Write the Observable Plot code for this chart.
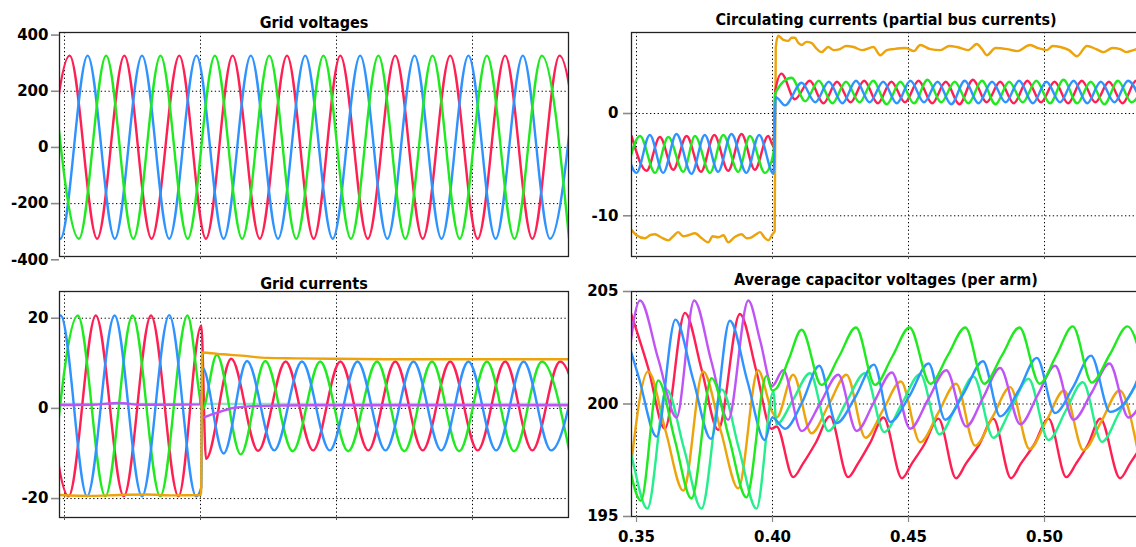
<!DOCTYPE html>
<html><head><meta charset="utf-8">
<script src="https://cdn.jsdelivr.net/npm/d3@7"></script>
<script src="https://cdn.jsdelivr.net/npm/@observablehq/plot@0.6"></script>
<style>
body{margin:0;background:#fff;}
#chart{position:relative;width:1136px;height:547px;overflow:hidden;background:#fff;}
#chart svg{position:absolute;overflow:visible;}
</style></head><body><div id="chart"></div>
<script>
// ---- shared axis data ----
const xDomain = [0.34816, 0.53529];
const xTicks = [0.35, 0.40, 0.45, 0.50];
const xTickLabels = ["0.35", "0.40", "0.45", "0.50"];
const titles = ["Grid voltages", "Grid currents", "Circulating currents (partial bus currents)", "Average capacitor voltages (per arm)"];

// ---- Grid voltages (extrema, [time s, value V]) ----
const gvTicks = [-400, -200, 0, 200, 400];
const gvGrid = [-200, 0, 200];
const gvRed = [[0.3421,-325],[0.3519,327],[0.3620,-325],[0.3720,327],[0.3820,-325],[0.3922,327],[0.4020,-325],[0.4118,327],[0.4218,-325],[0.4318,327],[0.4416,-325],[0.4514,327],[0.4615,-325],[0.4716,327],[0.4817,-325],[0.4918,327],[0.5019,-325],[0.5120,327],[0.5220,-325],[0.5320,327],[0.5420,-325]];
const gvBlue = [[0.3385,327],[0.3485,-325],[0.3585,327],[0.3685,-325],[0.3785,327],[0.3885,-325],[0.3985,327],[0.4085,-325],[0.4185,327],[0.4285,-325],[0.4385,327],[0.4486,-325],[0.4587,327],[0.4687,-325],[0.4787,327],[0.4886,-325],[0.4985,327],[0.5085,-325],[0.5185,327],[0.5285,-325],[0.5385,327]];
const gvGreen = [[0.3451,327],[0.3553,-325],[0.3653,327],[0.3753,-325],[0.3853,327],[0.3953,-325],[0.4053,327],[0.4153,-325],[0.4253,327],[0.4352,-325],[0.4452,327],[0.4553,-325],[0.4654,327],[0.4753,-325],[0.4853,327],[0.4953,-325],[0.5053,327],[0.5154,-325],[0.5255,327],[0.5355,-325]];

// ---- Grid currents ----
const gcTicks = [-20, 0, 20];
const gcGrid = [-20, 0, 20];
const gcTeal = [[0.3482,1.0],[0.5353,1.0]];
const gcRed = [[0.3415,20.6],[0.3515,-19.5],[0.3615,20.6],[0.3718,-19.5],[0.3818,20.6],[0.3919,-19.5],[0.4003,18.4],[0.4020,-11.2],[0.4113,11.0],[0.4212,-9.4],[0.4313,10.4],[0.4414,-9.3],[0.4514,10.4],[0.4617,-9.3],[0.4716,10.4],[0.4817,-9.3],[0.4918,10.4],[0.5019,-9.3],[0.5120,10.4],[0.5220,-9.3],[0.5322,10.4],[0.5422,-9.3]];
const gcGreen = [[0.3449,-19.5],[0.3549,20.6],[0.3650,-19.5],[0.3750,20.6],[0.3852,-19.5],[0.3952,20.6],[0.4003,0.5],[0.4006,-0.3],[0.4060,11.9],[0.4148,-10.2],[0.4238,10.5],[0.4339,-9.5],[0.4440,10.4],[0.4543,-9.5],[0.4649,10.4],[0.4749,-9.5],[0.4851,10.4],[0.4951,-9.5],[0.5053,10.4],[0.5153,-9.5],[0.5255,10.4],[0.5356,-9.5]];
const gcBlue = [[0.3386,-19.5],[0.3486,20.6],[0.3583,-19.5],[0.3684,20.6],[0.3785,-19.5],[0.3885,20.7],[0.3984,-19.5],[0.4003,-17.5],[0.4006,9.2],[0.4085,-10.0],[0.4171,10.5],[0.4271,-9.3],[0.4373,10.4],[0.4475,-9.3],[0.4577,10.4],[0.4680,-9.3],[0.4783,10.4],[0.4885,-9.3],[0.4985,10.4],[0.5087,-9.3],[0.5188,10.4],[0.5289,-9.3],[0.5389,10.4]];
const gcPurple = [[0.3482,0.75],[0.3600,0.8],[0.3700,1.2],[0.3780,0.8],[0.3900,0.8],[0.3998,0.9],[0.4003,3.5],[0.4008,-2.0],[0.4030,-1.6],[0.4070,-0.8],[0.4120,0.1],[0.4200,0.5],[0.4400,0.7],[0.5353,0.7]];
const gcOrange = [[0.3482,-19.2],[0.3600,-19.4],[0.3700,-19.2],[0.3800,-19.1],[0.3900,-19.3],[0.4002,-19.2],[0.4006,12.4],[0.4030,12.3],[0.4080,12.0],[0.4150,11.7],[0.4244,11.2],[0.4350,11.1],[0.4500,11.0],[0.4700,10.9],[0.5000,10.9],[0.5353,10.9]];

// ---- Circulating currents ----
const ccTicks = [-10, 0];
const ccGrid = [-10, 0];
const ccRed = [[0.3482,-2.2],[0.3537,-5.6],[0.3586,-2.3],[0.3635,-5.5],[0.3684,-2.2],[0.3737,-5.7],[0.3786,-2.1],[0.3837,-5.6],[0.3886,-2.0],[0.3935,-5.5],[0.3984,-2.2],[0.4004,-3.2],[0.4010,2.2],[0.4033,3.9],[0.4082,1.4],[0.4137,3.2],[0.4187,1.0],[0.4237,3.1],[0.4287,1.1],[0.4337,3.2],[0.4387,1.0],[0.4437,3.1],[0.4487,1.1],[0.4537,3.2],[0.4587,1.0],[0.4637,3.1],[0.4687,0.9],[0.4737,3.3],[0.4787,1.1],[0.4837,3.1],[0.4887,1.0],[0.4937,3.2],[0.4987,1.1],[0.5037,3.1],[0.5087,1.0],[0.5137,3.2],[0.5187,1.1],[0.5237,3.1],[0.5287,1.0],[0.5337,3.2],[0.5387,1.0]];
const ccGreen = [[0.3463,-5.8],[0.3513,-2.2],[0.3568,-5.8],[0.3617,-2.3],[0.3672,-5.7],[0.3715,-2.2],[0.3770,-5.8],[0.3819,-2.1],[0.3874,-5.7],[0.3917,-2.2],[0.3972,-5.8],[0.4004,-3.8],[0.4010,2.0],[0.4070,3.5],[0.4120,1.2],[0.4170,3.2],[0.4220,1.0],[0.4270,3.1],[0.4320,1.1],[0.4370,3.2],[0.4420,0.9],[0.4470,3.1],[0.4520,1.0],[0.4570,3.3],[0.4620,1.1],[0.4670,3.1],[0.4720,1.0],[0.4770,3.2],[0.4820,0.9],[0.4870,3.1],[0.4920,1.1],[0.4970,3.2],[0.5020,1.0],[0.5070,3.3],[0.5120,1.0],[0.5170,3.1],[0.5220,0.9],[0.5270,3.2],[0.5320,1.1],[0.5370,3.1]];
const ccBlue = [[0.3450,-2.1],[0.3500,-5.8],[0.3549,-2.1],[0.3598,-5.8],[0.3647,-2.0],[0.3702,-5.9],[0.3751,-2.1],[0.3800,-5.7],[0.3849,-2.0],[0.3904,-5.8],[0.3951,-2.1],[0.4004,-5.9],[0.4012,1.6],[0.4046,0.8],[0.4107,3.0],[0.4157,1.1],[0.4207,3.1],[0.4257,1.0],[0.4307,3.2],[0.4357,1.1],[0.4407,3.1],[0.4457,1.0],[0.4507,3.2],[0.4557,1.1],[0.4607,3.1],[0.4657,0.9],[0.4707,3.2],[0.4757,1.0],[0.4807,3.1],[0.4857,1.1],[0.4907,3.2],[0.4957,1.0],[0.5007,3.1],[0.5057,1.1],[0.5107,3.2],[0.5157,1.0],[0.5207,3.1],[0.5257,1.1],[0.5307,3.2],[0.5357,1.0]];
const ccOrange = [[0.3482,-11.4],[0.3500,-11.9],[0.3531,-12.2],[0.3550,-11.9],[0.3568,-11.8],[0.3590,-12.1],[0.3617,-12.4],[0.3635,-12.0],[0.3653,-11.6],[0.3672,-12.0],[0.3690,-11.9],[0.3715,-11.7],[0.3740,-12.2],[0.3764,-12.6],[0.3780,-12.0],[0.3800,-12.1],[0.3820,-11.9],[0.3837,-12.6],[0.3860,-12.1],[0.3886,-11.8],[0.3905,-12.2],[0.3923,-12.1],[0.3940,-11.8],[0.3954,-11.6],[0.3970,-12.1],[0.3984,-12.4],[0.4000,-11.8],[0.4008,-11.5],[0.4012,6.5],[0.4021,7.6],[0.4040,7.2],[0.4058,7.1],[0.4070,7.4],[0.4082,7.4],[0.4095,6.9],[0.4107,6.7],[0.4125,7.0],[0.4143,6.9],[0.4160,6.4],[0.4180,6.0],[0.4205,6.5],[0.4225,6.2],[0.4248,6.3],[0.4270,6.6],[0.4298,6.5],[0.4330,6.2],[0.4371,6.5],[0.4396,5.7],[0.4420,6.2],[0.4445,6.3],[0.4490,6.4],[0.4520,6.1],[0.4543,6.7],[0.4580,6.3],[0.4617,6.2],[0.4650,6.6],[0.4678,6.5],[0.4720,6.2],[0.4751,6.8],[0.4770,6.3],[0.4788,5.7],[0.4820,6.4],[0.4862,6.3],[0.4900,6.1],[0.4947,6.7],[0.4975,6.4],[0.5009,6.2],[0.5030,6.6],[0.5058,6.5],[0.5090,6.2],[0.5119,5.6],[0.5156,6.6],[0.5190,6.3],[0.5217,6.0],[0.5250,6.4],[0.5278,6.3],[0.5300,6.0],[0.5327,6.2],[0.5353,6.4]];

// ---- Average capacitor voltages ----
const cvTicks = [195, 200, 205];
const cvGrid = [200];
const cvRed = [[0.3475,204.2],[0.3543,201.6],[0.3604,198.9],[0.3678,204.05],[0.3740,201.5],[0.3800,198.85],[0.3880,204.0],[0.3940,201.5],[0.3996,198.9],[0.4015,199.0],[0.4076,196.75],[0.4112,197.35],[0.4160,198.3],[0.4211,199.45],[0.4278,196.75],[0.4314,197.35],[0.4360,198.3],[0.4408,199.4],[0.4476,196.7],[0.4512,197.35],[0.4558,198.2],[0.4610,199.35],[0.4675,196.7],[0.4711,197.35],[0.4760,198.2],[0.4812,199.35],[0.4877,196.7],[0.4913,197.35],[0.4962,198.2],[0.5015,199.35],[0.5080,196.75],[0.5116,197.35],[0.5160,198.2],[0.5205,199.35],[0.5278,196.7],[0.5314,197.35],[0.5360,198.2]];
const cvGreen = [[0.3381,201.0],[0.3450,198.4],[0.3516,195.7],[0.3580,201.05],[0.3641,198.4],[0.3702,195.8],[0.3776,201.15],[0.3840,198.5],[0.3904,195.85],[0.3978,201.25],[0.3999,200.6],[0.4015,200.7],[0.4060,202.0],[0.4107,203.3],[0.4180,200.85],[0.4244,202.1],[0.4307,203.4],[0.4377,200.85],[0.4440,202.1],[0.4504,203.4],[0.4580,200.9],[0.4644,202.15],[0.4709,203.4],[0.4778,200.9],[0.4843,202.15],[0.4908,203.4],[0.4982,200.9],[0.5043,202.15],[0.5104,203.45],[0.5174,200.95],[0.5240,202.2],[0.5305,203.45],[0.5375,200.95]];
const cvBlue = [[0.3443,203.8],[0.3508,201.2],[0.3574,198.55],[0.3643,203.75],[0.3708,201.1],[0.3774,198.45],[0.3843,203.7],[0.3908,201.0],[0.3972,198.4],[0.3999,199.4],[0.4046,198.9],[0.4110,200.1],[0.4172,201.7],[0.4235,199.15],[0.4304,200.3],[0.4373,201.75],[0.4433,199.2],[0.4503,200.35],[0.4574,201.8],[0.4635,199.3],[0.4704,200.5],[0.4774,201.9],[0.4837,199.45],[0.4905,200.6],[0.4972,202.05],[0.5039,199.6],[0.5105,200.75],[0.5171,202.15],[0.5241,199.65],[0.5330,200.75],[0.5371,202.2]];
const cvOrange = [[0.3470,196.2],[0.3543,201.45],[0.3607,198.8],[0.3672,196.15],[0.3745,201.45],[0.3810,198.8],[0.3874,196.25],[0.3947,201.5],[0.3999,199.65],[0.4015,199.4],[0.4076,201.3],[0.4143,198.7],[0.4208,200.0],[0.4272,201.3],[0.4342,198.5],[0.4407,199.75],[0.4472,201.0],[0.4543,198.3],[0.4609,199.6],[0.4675,200.9],[0.4745,198.15],[0.4810,199.45],[0.4874,200.75],[0.4945,198.0],[0.5009,199.3],[0.5072,200.6],[0.5143,197.95],[0.5210,199.25],[0.5276,200.6],[0.5343,197.9]];
const cvPurple = [[0.3448,199.4],[0.3513,204.6],[0.3580,202.0],[0.3647,199.4],[0.3712,204.6],[0.3775,201.9],[0.3837,199.3],[0.3911,204.6],[0.3955,202.8],[0.3999,200.8],[0.4039,201.5],[0.4107,198.8],[0.4174,200.0],[0.4242,201.3],[0.4309,198.8],[0.4374,200.1],[0.4439,201.4],[0.4506,198.9],[0.4572,200.2],[0.4639,201.5],[0.4712,199.0],[0.4775,200.3],[0.4837,201.6],[0.4911,199.1],[0.4975,200.4],[0.5039,201.7],[0.5107,199.3],[0.5173,200.5],[0.5239,201.8],[0.5309,199.4],[0.5374,200.6]];
const cvMint = [[0.3410,200.65],[0.3475,198.0],[0.3540,195.35],[0.3610,200.65],[0.3675,198.0],[0.3739,195.35],[0.3813,200.65],[0.3877,198.0],[0.3941,195.35],[0.4003,200.55],[0.4015,199.1],[0.4076,200.2],[0.4138,201.37],[0.4205,198.8],[0.4272,200.1],[0.4340,201.37],[0.4411,198.75],[0.4477,200.05],[0.4543,201.33],[0.4614,198.65],[0.4677,199.95],[0.4739,201.22],[0.4812,198.5],[0.4877,199.8],[0.4941,201.12],[0.5015,198.4],[0.5078,199.7],[0.5141,200.97],[0.5211,198.32],[0.5276,199.65],[0.5341,200.95]];

// ---- drawing ----
const C = {red:"#ff1f52", green:"#1fea1f", blue:"#2f93ff", orange:"#eda30a", purple:"#c053f6", mint:"#25ee8c", teal:"#8ee4c6"};
const TITLE_FONT = '"DejaVu Sans Condensed", "DejaVu Sans", sans-serif';
const TICK_FONT = '"DejaVu Sans", sans-serif';
const chart = document.getElementById("chart");

function panel(p) {
  const marks = [
    Plot.ruleX(xTicks, {stroke: "#000", strokeWidth: 1, strokeDasharray: "1.3,2.5"}),
    Plot.ruleY(p.grid, {stroke: "#000", strokeWidth: 1, strokeDasharray: "1.3,2.5"}),
    ...p.series.map(([data, color]) => Plot.line(data, {
      x: d => d[0], y: d => d[1], stroke: color, strokeWidth: 2.4,
      curve: "monotone-x", clip: true
    })),
    Plot.frame({stroke: "#222", strokeWidth: 1.3}),
    Plot.axisY(p.yTicks, {tickSize: 8, tickPadding: p.yPad, stroke: "#8a8a8a", strokeWidth: 1.6,
      fill: "#000", label: null, tickFormat: d => String(d), fontSize: 15, fontWeight: "bold", fontFamily: TICK_FONT}),
    p.xLabels
      ? Plot.axisX(xTicks, {tickSize: 6, tickPadding: 9, stroke: "#8a8a8a", strokeWidth: 1.2,
          fill: "#000", label: null, tickFormat: (d, i) => xTickLabels[i], fontSize: 15, fontWeight: "bold", fontFamily: TICK_FONT})
      : Plot.axisX(xTicks, {tickSize: 3, tickPadding: 0, stroke: "#555", label: null, tickFormat: () => ""}),
    Plot.text([p.title], {text: d => d, frameAnchor: "top", lineAnchor: "middle", dy: p.titleDy,
      fontSize: 16, fontWeight: "bold", fill: "#000", fontFamily: TITLE_FONT})
  ];
  const svg = Plot.plot({
    width: p.width, height: p.height,
    marginLeft: p.ml, marginRight: 0, marginTop: p.mt, marginBottom: p.mb,
    x: {domain: xDomain, type: "linear"},
    y: {domain: p.yDomain, type: "linear"},
    style: `font-family: ${TITLE_FONT}; font-size: 16px; font-weight: bold; overflow: visible; background: transparent;`,
    marks
  });
  svg.style.left = p.left + "px";
  svg.style.top = p.top + "px";
  chart.append(svg);
}

panel({left: 0, top: 0, width: 568, height: 262, ml: 59, mt: 32, mb: 6, yPad: 3,
  yDomain: [-388.3, 409.2], yTicks: gvTicks, grid: gvGrid, xLabels: false, title: titles[0], titleDy: -9.8,
  series: [[gvRed, C.red], [gvBlue, C.blue], [gvGreen, C.green]]});

panel({left: 0, top: 265, width: 568, height: 258, ml: 59, mt: 26, mb: 6, yPad: 3,
  yDomain: [-24.2, 25.93], yTicks: gcTicks, grid: gcGrid, xLabels: false, title: titles[1], titleDy: -7.8,
  series: [[gcTeal, C.teal], [gcRed, C.red], [gcGreen, C.green], [gcBlue, C.blue], [gcPurple, C.purple], [gcOrange, C.orange]]});

panel({left: 560, top: 0, width: 580, height: 262, ml: 71, mt: 32, mb: 6, yPad: 5,
  yDomain: [-13.98, 7.92], yTicks: ccTicks, grid: ccGrid, xLabels: false, title: titles[2], titleDy: -13,
  series: [[ccOrange, C.orange], [ccRed, C.red], [ccGreen, C.green], [ccBlue, C.blue]]});

panel({left: 560, top: 265, width: 580, height: 282, ml: 71, mt: 26, mb: 31, yPad: 5,
  yDomain: [195, 205], yTicks: cvTicks, grid: cvGrid, xLabels: true, title: titles[3], titleDy: -11.8,
  series: [[cvRed, C.red], [cvOrange, C.orange], [cvMint, C.mint], [cvPurple, C.purple], [cvBlue, C.blue], [cvGreen, C.green]]});
</script>
</body></html>
